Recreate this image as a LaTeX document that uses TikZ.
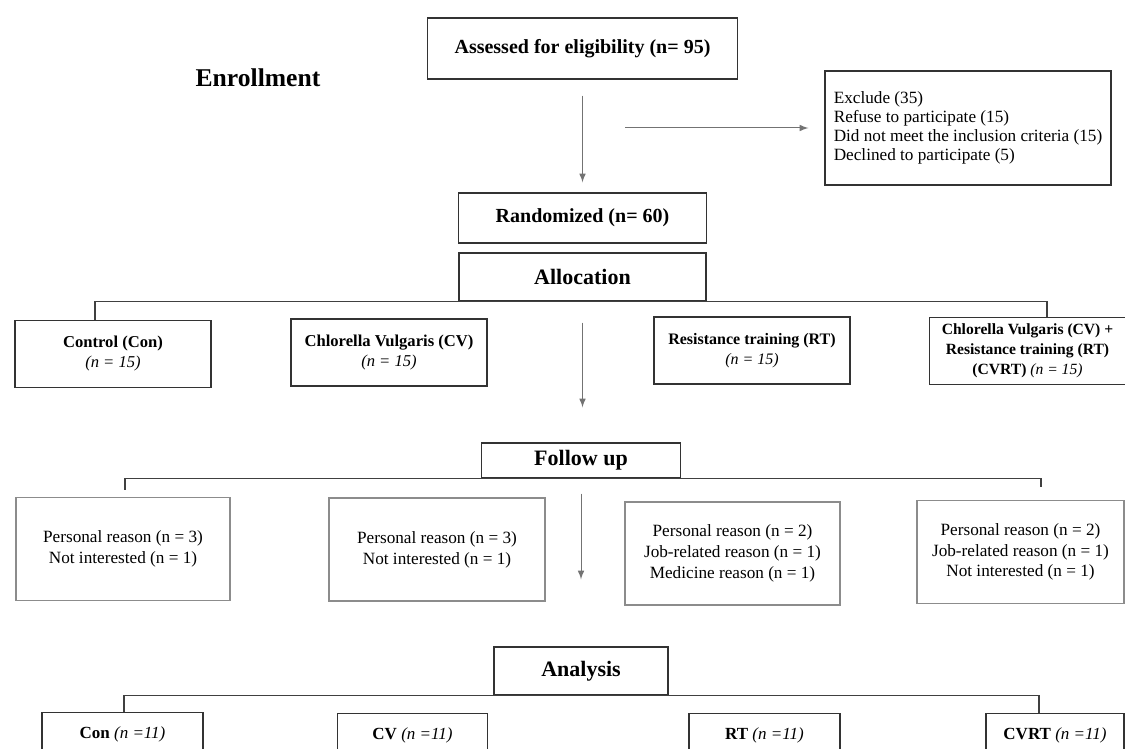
\documentclass[tikz,border=0pt]{standalone}
\usepackage{fontspec}
\setmainfont{Liberation Serif}
\usetikzlibrary{calc}

\newcommand\grpn[1]{{\mdseries\itshape (n = #1)}}

\tikzset{
  every box/.style={draw=black!80, line width=0.7pt, align=center, inner sep=0pt},
  stage box/.style={every box, font=\fontsize{10}{12}\selectfont\bfseries},
  phase box/.style={every box, font=\fontsize{11}{13}\selectfont\bfseries},
  group box/.style={every box, minimum width=98pt, minimum height=33.5pt},
  reason box/.style={every box, draw=black!45, minimum height=51.5pt,
    font=\fontsize{8.6}{10.4}\selectfont},
  final box/.style={every box, anchor=north, minimum height=22pt,
    font=\fontsize{8.5}{10}\selectfont},
  flow/.style={draw=black!55, line width=0.5pt, -latex},
  branch/.style={draw=black!75, line width=0.7pt}
}

\begin{document}
\begin{tikzpicture}[x=0.5pt, y=-0.5pt]
  \useasboundingbox (0,0) rectangle (1125,749);
  \fill [white] (0,0) rectangle (1125,749);
  \clip (0,0) rectangle (1125,749);

  % enrollment
  \node [font=\fontsize{12.8}{15}\selectfont\bfseries] (enrol) at (258,78) {Enrollment};
  \node [stage box, minimum width=155pt, minimum height=30.5pt] (assess) at (582.5,48.5)
    {Assessed for eligibility (n= 95)};
  \node [every box, align=left, minimum width=143pt, minimum height=57pt,
    font=\fontsize{8.6}{9.4}\selectfont] (excl) at (968,128)
    {Exclude (35)\\Refuse to participate (15)\\Did not meet the inclusion criteria (15)\\Declined to participate (5)};
  \node [stage box, minimum width=124pt, minimum height=25pt] (rand) at (582.5,218)
    {Randomized (n= 60)};
  \coordinate (split) at (583,128);

  % allocation
  \node [phase box, minimum width=123.5pt, minimum height=24pt] (alloc) at (582.5,277) {Allocation};
  \foreach \n/\x/\y/\s/\t in {
      con/113/354/8.3/{\textbf{Control (Con)}\\\grpn{15}},
      cv/389/352.5/8.3/{\textbf{Chlorella Vulgaris (CV)}\\\grpn{15}},
      rt/752/350.5/8/{\textbf{Resistance training (RT)}\\\grpn{15}},
      cvrt/1027.5/351/7.8/{\textbf{Chlorella Vulgaris (CV) +}\\\textbf{Resistance training (RT)}\\\textbf{(CVRT)} \grpn{15}}}
    \node [group box, font=\fontsize{\s}{10}\selectfont] (\n) at (\x,\y) {\t};

  % follow up
  \node [phase box, minimum width=99.5pt, minimum height=17.5pt] (follow) at (581,460.5) {Follow up};
  \foreach \x/\y/\w/\t [count=\i] in {
      123/549/107/{Personal reason (n = 3)\\Not interested (n = 1)},
      437/549.5/108/{Personal reason (n = 3)\\Not interested (n = 1)},
      732.5/553.5/107.5/{Personal reason (n = 2)\\Job-related reason (n = 1)\\Medicine reason (n = 1)},
      1020.5/552/103.5/{Personal reason (n = 2)\\Job-related reason (n = 1)\\Not interested (n = 1)}}
    \node [reason box, minimum width=\w pt] (fu\i) at (\x,\y) {\t};

  % analysis
  \node [phase box, minimum width=87pt, minimum height=24pt] (analysis) at (581,671) {Analysis};
  \foreach \n/\x/\y/\w/\l in {con2/122.5/712/80.5/Con, cv2/412.5/713/75/CV,
      rt2/764.5/713/75.5/RT, cvrt2/1055/713/69/CVRT}
    \node [final box, minimum width=\w pt] (\n) at (\x,\y) {\textbf{\l} \textit{(n =11)}};

  % connectors
  \draw [flow, shorten <=8pt, shorten >=5pt] (assess.south) -- (assess.south |- rand.north);
  \draw [flow, shorten <=21pt, shorten >=8pt] (split) -- (excl.west);
  \draw [flow, shorten <=10.5pt, shorten >=17.5pt] (alloc.south) -- (alloc.south |- follow.north);
  \draw [flow, shorten <=7.5pt, shorten >=33.5pt] (follow.south) -- (follow.south |- analysis.north);
  \draw [branch] ($(con.north)+(-18,0)$) |- (alloc.south) -| ($(cvrt.north)+(19.5,0)$);
  \draw [branch] ($(fu1.north)+(2,-7)$) |- (follow.south) -| ($(fu4.north)+(20.5,-12.5)$);
  \draw [branch] ($(con2.north)+(1.5,0)$) |- (analysis.south) -| ($(cvrt2.north)+(-16,0)$);
\end{tikzpicture}
\end{document}
